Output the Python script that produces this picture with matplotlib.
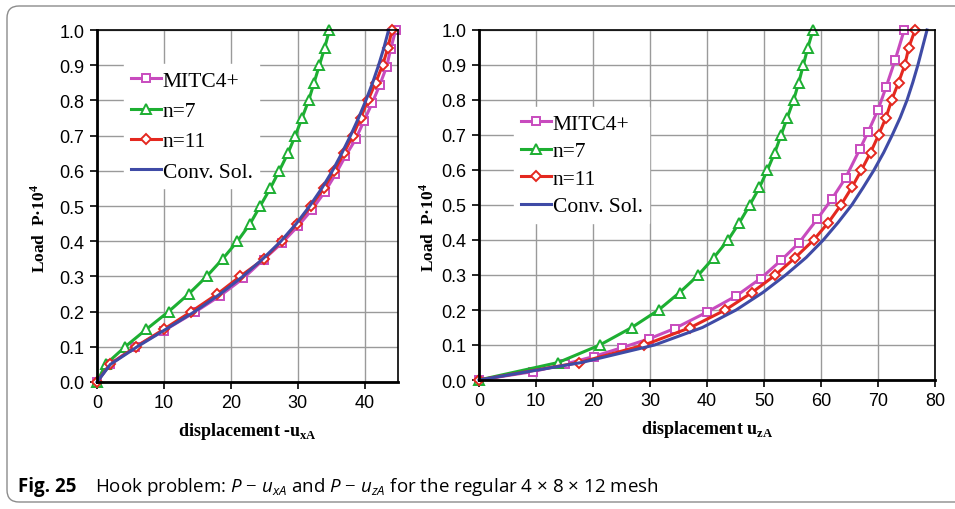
import matplotlib
matplotlib.use("Agg")
import matplotlib.pyplot as plt
from matplotlib.patches import FancyBboxPatch

plt.rcParams["font.family"] = ["Liberation Sans", "DejaVu Sans"]
plt.rcParams["mathtext.fontset"] = "custom"
plt.rcParams["mathtext.rm"] = "Liberation Serif"
plt.rcParams["mathtext.bf"] = "Liberation Serif:bold"
plt.rcParams["mathtext.it"] = "Open Sans:italic"

# load levels (P*10^4)
load_steps = [0, 0.05, 0.1, 0.15, 0.2, 0.25, 0.3, 0.35, 0.4, 0.45, 0.5,
              0.55, 0.6, 0.65, 0.7, 0.75, 0.8, 0.85, 0.9, 0.95, 1.0]

# left panel: -u_xA
mitc_y_l = [0, 0.05, 0.1, 0.146, 0.198, 0.245, 0.295, 0.348, 0.395, 0.443, 0.49,
            0.54, 0.59, 0.642, 0.689, 0.741, 0.793, 0.845, 0.896, 0.945, 1.0]
mitc_x_l = [0, 1.9, 5.7, 10.0, 14.6, 18.4, 21.9, 24.9, 27.65, 30.05, 32.15,
            34.05, 35.65, 37.15, 38.65, 39.9, 41.15, 42.3, 43.3, 43.9, 44.65]
n7_x_l = [0, 1.3, 4.2, 7.4, 10.7, 13.7, 16.4, 18.8, 21.0, 22.9, 24.4,
          25.9, 27.25, 28.55, 29.65, 30.65, 31.65, 32.45, 33.25, 34.05, 34.75]
n11_x_l = [0, 1.9, 5.8, 10.0, 14.1, 18.0, 21.4, 25.0, 27.6, 29.9, 32.0,
           33.9, 35.5, 36.9, 38.25, 39.4, 40.5, 41.65, 42.7, 43.5, 44.1]
conv_x_l = [0, 2.0, 6.0, 10.3, 14.6, 18.4, 21.8, 24.8, 27.5, 29.8, 31.8,
            33.6, 35.2, 36.6, 37.9, 39.1, 40.2, 41.2, 42.1, 42.9, 43.6]

# right panel: u_zA
mitc_y_r = [0, 0.024, 0.045, 0.067, 0.092, 0.118, 0.147, 0.194, 0.24, 0.29, 0.342,
            0.391, 0.459, 0.517, 0.577, 0.659, 0.71, 0.772, 0.836, 0.914, 1.0]
mitc_x_r = [0, 9.5, 15.0, 20.1, 25.0, 29.9, 34.3, 40.0, 45.1, 49.4, 53.0,
            56.1, 59.3, 61.9, 64.3, 66.8, 68.3, 70.0, 71.4, 73.0, 74.6]
n7_x_r = [0, 13.9, 21.2, 26.8, 31.5, 35.2, 38.5, 41.2, 43.7, 45.7, 47.5,
          49.2, 50.6, 51.9, 53.0, 54.1, 55.2, 56.1, 56.9, 57.7, 58.6]
n11_x_r = [0, 17.6, 29.0, 37.1, 43.2, 47.9, 52.0, 55.5, 58.7, 61.3, 63.5,
           65.4, 67.1, 68.7, 70.1, 71.4, 72.4, 73.6, 74.7, 75.4, 76.5]
conv_x_r = [0, 18.0, 30.8, 39.2, 45.1, 49.8, 53.8, 57.4, 60.4, 63.0, 65.4,
            67.4, 69.3, 71.0, 72.5, 73.9, 75.1, 76.1, 77.0, 77.8, 78.6]

labels = ["MITC4+", "n=7", "n=11", "Conv. Sol."]
c_mitc, c_n7, c_n11, c_conv = "#C84BBE", "#1DAF32", "#E4281F", "#3F4BA6"

serif = ["Liberation Serif", "DejaVu Serif"]

fig = plt.figure(figsize=(9.55, 5.10), dpi=100)
ax1 = fig.add_axes([97 / 955, 1 - 383 / 510, 301 / 955, 352 / 510])
ax2 = fig.add_axes([479 / 955, 1 - 381 / 510, 456 / 955, 350 / 510])


def draw(ax, mx, my, x7, x11, xc):
    mk = dict(markerfacecolor="white", markeredgewidth=1.4, linewidth=2.2)
    ax.plot(mx, my, color=c_mitc, marker="s", markersize=6, label=labels[0], **mk)
    ax.plot(x7, load_steps, color=c_n7, marker="^", markersize=6.5, label=labels[1], **mk)
    ax.plot(x11, load_steps, color=c_n11, marker="D", markersize=5.3, label=labels[2], **mk)
    ax.plot(xc, load_steps, color=c_conv, linewidth=2.2, label=labels[3])
    ax.set_ylim(0, 1.0)
    ax.set_yticks([i / 10 for i in range(11)])
    ax.set_yticklabels([f"{i / 10:.1f}" for i in range(11)])
    ax.grid(True, color="#9A9A9A", linewidth=1.0)
    ax.set_axisbelow(True)
    ax.tick_params(direction="out", length=5, width=1.2, labelsize=13, pad=4)
    for s in ["left", "bottom"]:
        ax.spines[s].set_linewidth(2.0)
    for s in ["top", "right"]:
        ax.spines[s].set_linewidth(1.2)
    ax.set_ylabel(r"Load  P·10$^{\mathbf{4}}$", family=serif, fontweight="bold",
                  fontsize=12.5)
    for ln in ax.lines:
        ln.set_clip_on(False)


draw(ax1, mitc_x_l, mitc_y_l, n7_x_l, n11_x_l, conv_x_l)
ax1.set_xlim(0, 45)
ax1.set_xticks([0, 10, 20, 30, 40])
ax1.set_xlabel(r"displacement -u$_{\mathbf{xA}}$", family=serif, fontweight="bold",
               fontsize=13, labelpad=6)
ax1.yaxis.set_label_coords(-0.16, 0.44)

draw(ax2, mitc_x_r, mitc_y_r, n7_x_r, n11_x_r, conv_x_r)
ax2.set_xlim(0, 80)
ax2.set_xticks(range(0, 81, 10))
ax2.set_xlabel(r"displacement u$_{\mathbf{zA}}$", family=serif, fontweight="bold",
               fontsize=13, labelpad=6)
ax2.yaxis.set_label_coords(-0.09, 0.44)

leg_kw = dict(loc="upper left", frameon=True, fancybox=False, edgecolor="white",
              facecolor="white", framealpha=1, prop={"family": serif, "size": 15.5},
              handlelength=1.4, handletextpad=0.1, borderpad=0.3, borderaxespad=0)
leg1 = ax1.legend(bbox_to_anchor=(0.09, 0.902), labelspacing=0.47, **leg_kw)
leg2 = ax2.legend(bbox_to_anchor=(0.077, 0.78), labelspacing=0.35, **leg_kw)

# rounded frame around figure
frame = FancyBboxPatch((7, 7), 975, 496, boxstyle="round,pad=0,rounding_size=12",
                       transform=None, facecolor="none", edgecolor="#8C8C8C",
                       linewidth=1.0)
fig.add_artist(frame)

fig.text(18 / 955, 1 - 487 / 510, "Fig. 25", family="Open Sans", fontweight="bold",
         fontsize=13.5, va="center", ha="left")
fig.text(95 / 955, 1 - 487 / 510,
         r"Hook problem: $P$ $-$ $u_{xA}$ and $P$ $-$ $u_{zA}$ for the regular 4 × 8 × 12 mesh",
         family="Open Sans", fontsize=13.5, va="center", ha="left")

fig.savefig("out.png", dpi=100)
